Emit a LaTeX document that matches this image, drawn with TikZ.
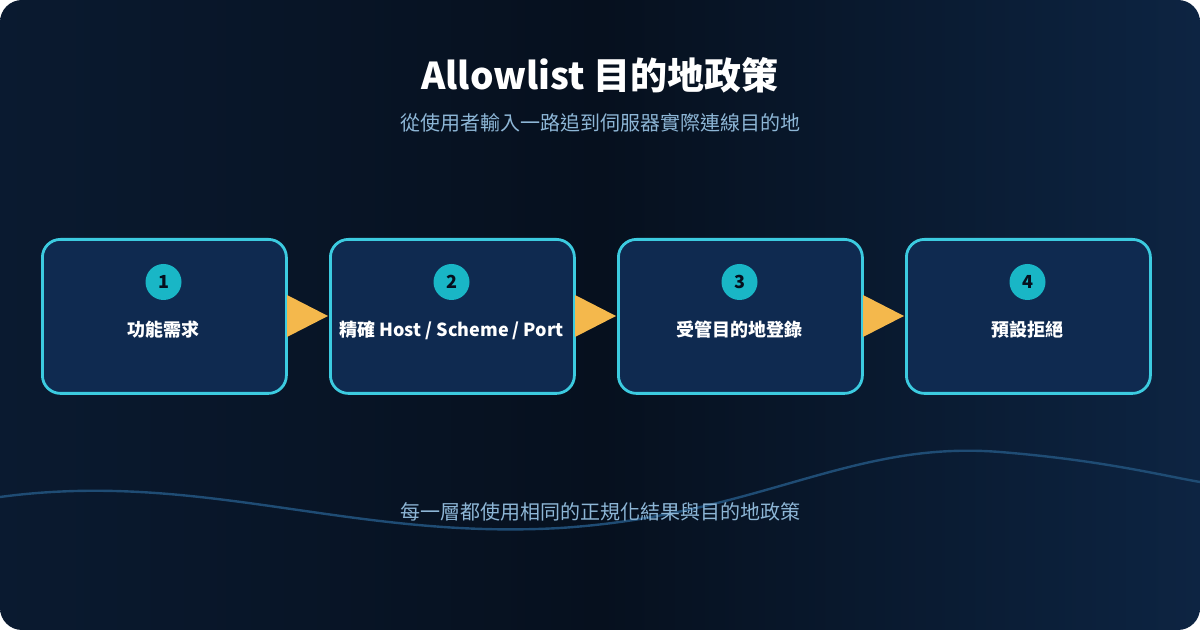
\documentclass[tikz,border=0pt]{standalone}
\usepackage{fontspec}
\setmainfont{Noto Sans CJK TC}
\usetikzlibrary{shapes.geometric}
\definecolor{bgL}{HTML}{0A1A30}
\definecolor{bgR}{HTML}{0D2442}
\definecolor{bgM}{HTML}{06101E}
\definecolor{boxF}{HTML}{0F2A50}
\definecolor{boxD}{HTML}{3CCBE0}
\definecolor{circ}{HTML}{19B6C6}
\definecolor{arr}{HTML}{F4B84C}
\definecolor{sub}{HTML}{8DB6D6}
\definecolor{wave}{HTML}{1F4C74}
\begin{document}
\begin{tikzpicture}[x=0.5pt,y=-0.5pt,
  stepbox/.style={draw=boxD,line width=1.4pt,fill=boxF,rounded corners=9pt,minimum width=122pt,minimum height=77pt,anchor=north west},
  num/.style={circle,fill=circ,minimum size=18pt,inner sep=0pt,font=\bfseries\fontsize{9}{9}\selectfont,text=bgM},
  lab/.style={text=white,font=\bfseries\fontsize{9}{10}\selectfont},
  tri/.style={fill=arr}]
\useasboundingbox (0,0) rectangle (1200,630);
\fill[white] (0,0) rectangle (1200,630);
\shade[left color=bgL,right color=bgR,middle color=bgM,rounded corners=11pt] (0,0) rectangle (1200,630);
\node[text=white,font=\bfseries\fontsize{18.5}{22}\selectfont] (title) at (600,75) {Allowlist 目的地政策};
\node[text=sub,font=\fontsize{10}{12}\selectfont] (subt) at (600,123) {從使用者輸入一路追到伺服器實際連線目的地};
\draw[wave,line width=1.2pt] (0,497) .. controls (200,470) and (350,540) .. (560,528) .. controls (760,515) and (850,440) .. (1000,452) .. controls (1100,460) and (1160,475) .. (1200,482);
\node[text=sub,font=\fontsize{10}{12}\selectfont] (foot) at (600,512) {每一層都使用相同的正規化結果與目的地政策};
\foreach \i/\x/\t in {1/41/{功能需求},2/329/{精確 Host / Scheme / Port},3/617/{受管目的地登錄},4/905/{預設拒絕}}{
  \node[stepbox] (b\i) at (\x,238) {};
  \node[num] (n\i) at (\x+122.5,282) {\i};
  \node[lab] (l\i) at (\x+122.5,330) {\t};
}
\foreach \x in {287,575,863}{
  \fill[tri] (\x,295) -- (\x+41,316) -- (\x,337) -- cycle;
}
\end{tikzpicture}
\end{document}
